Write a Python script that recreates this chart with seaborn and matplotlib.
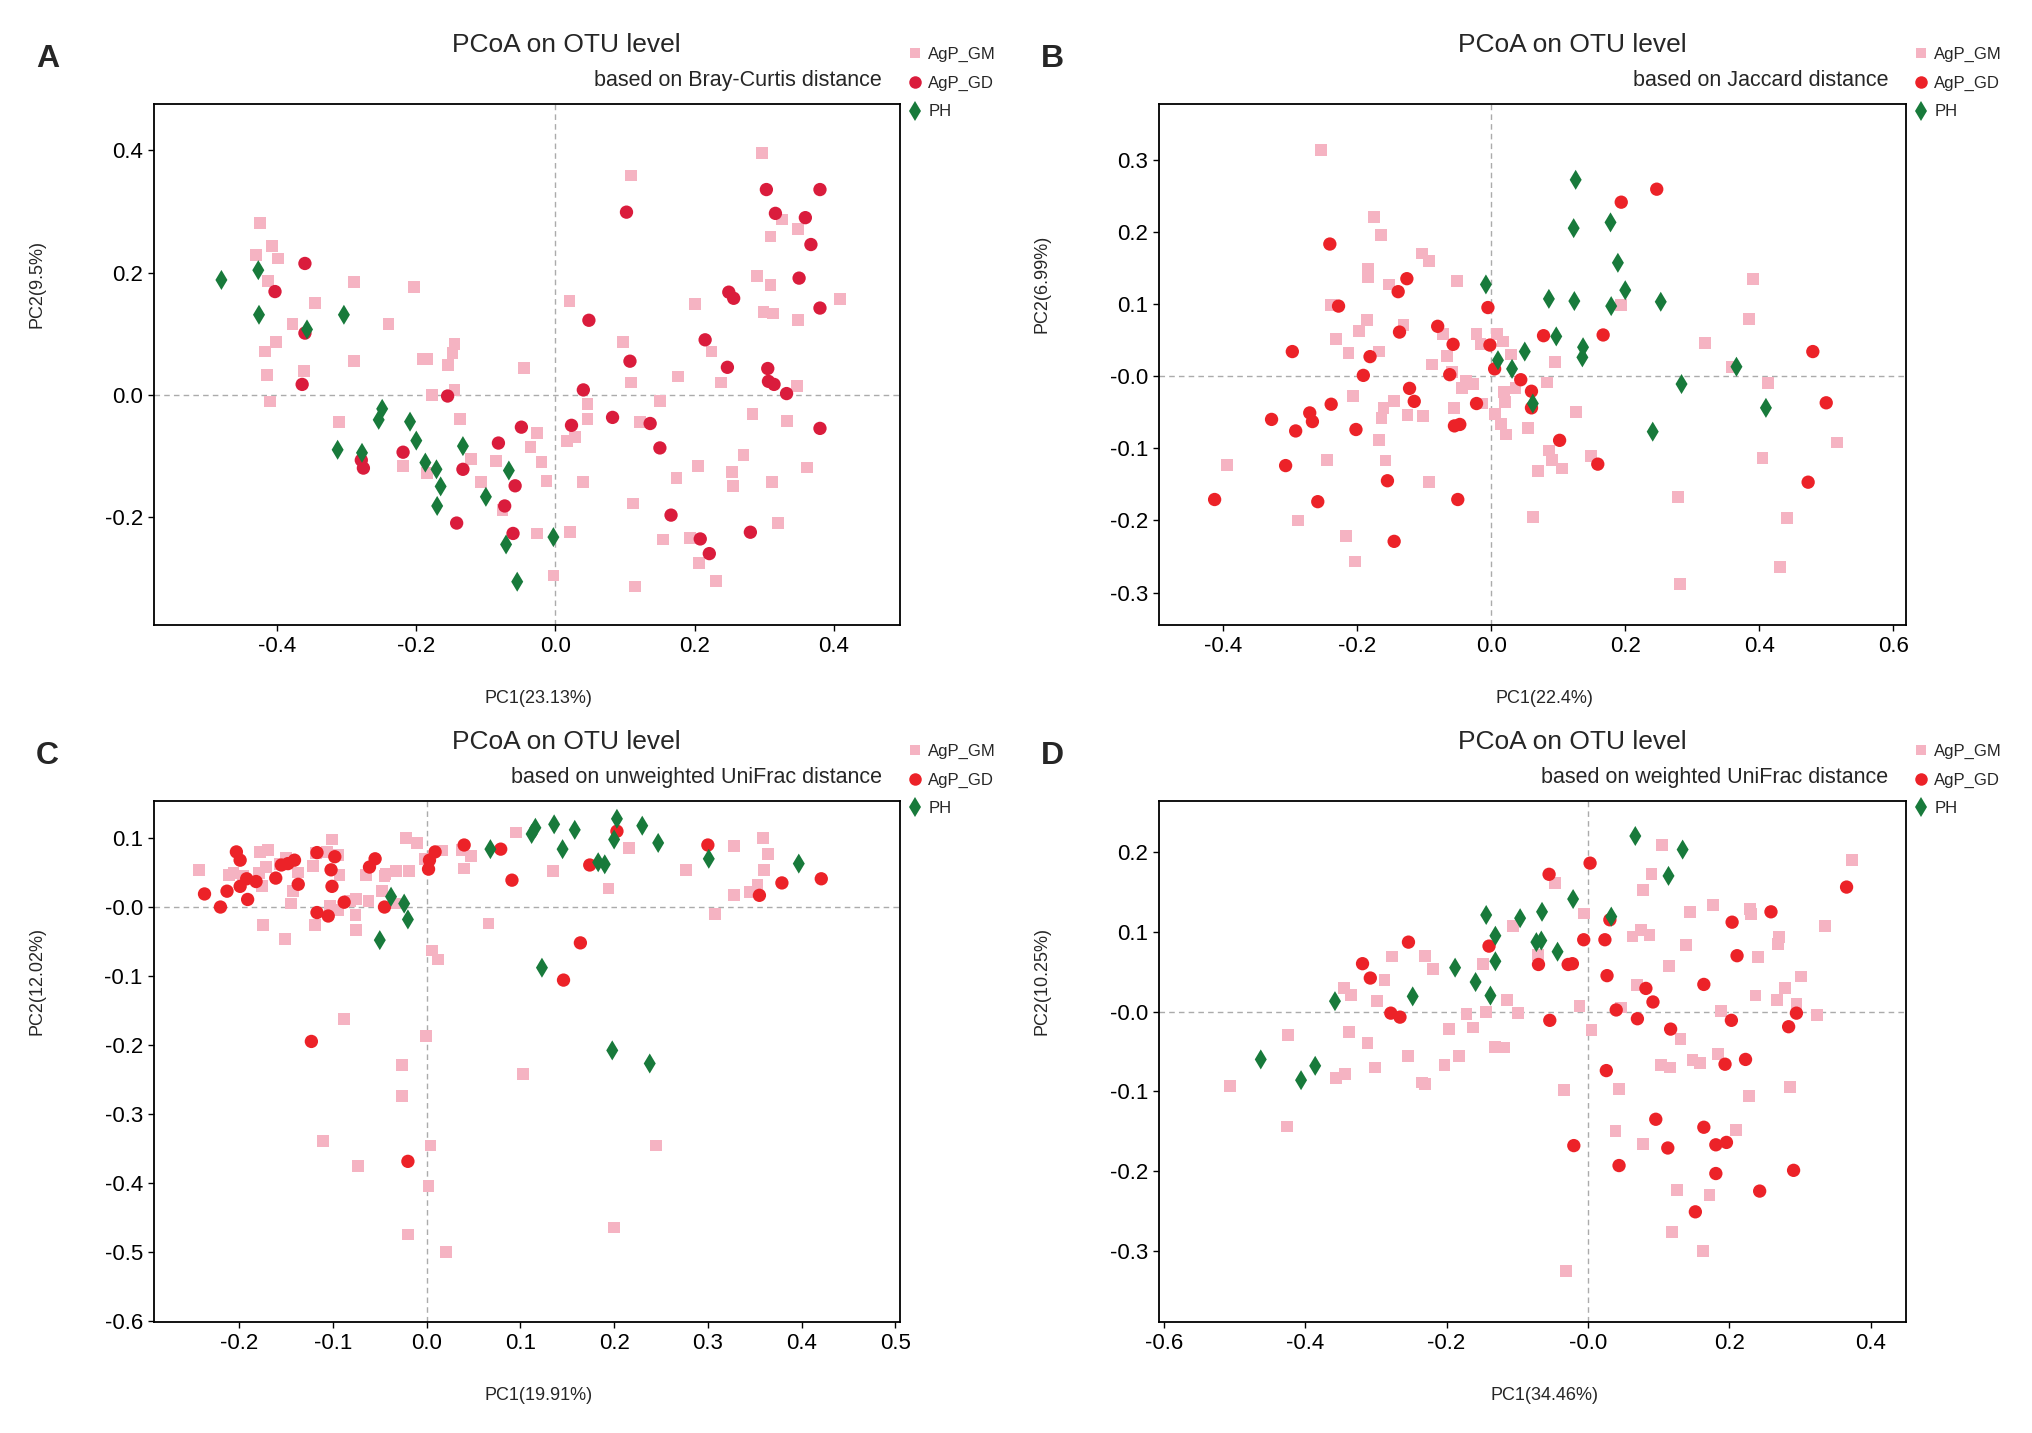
import matplotlib
matplotlib.use("Agg")
import matplotlib.pyplot as plt
import seaborn as sns
import pandas as pd
from matplotlib.lines import Line2D

sns.set_theme(style="ticks")
plt.rcParams["font.family"] = ["Liberation Sans", "DejaVu Sans"]
plt.rcParams["axes.unicode_minus"] = False

# -------------------------------
# DATA (PC1 / PC2 pairs)
# -------------------------------
GROUPS = ["AgP_GM", "AgP_GD", "PH"]

A_GM = [(-0.424, 0.281), (-0.430, 0.229), (-0.407, 0.244), (-0.399, 0.223), (-0.413, 0.186),
        (-0.289, 0.185), (-0.203, 0.176), (-0.346, 0.150), (-0.378, 0.116), (-0.240, 0.116),
        (-0.402, 0.087), (-0.417, 0.071), (-0.361, 0.039), (-0.414, 0.032), (-0.410, -0.011),
        (-0.289, 0.055), (-0.190, 0.059), (-0.184, 0.059), (-0.145, 0.083), (-0.148, 0.068),
        (-0.154, 0.049), (-0.145, 0.008), (-0.177, 0.000), (-0.045, 0.044), (-0.311, -0.045),
        (-0.137, -0.039), (-0.219, -0.116), (-0.185, -0.128), (-0.121, -0.105), (-0.086, -0.108),
        (-0.107, -0.143), (-0.076, -0.189), (-0.027, -0.062), (-0.036, -0.086), (-0.020, -0.110),
        (-0.013, -0.141), (-0.027, -0.227), (-0.003, -0.296), (0.020, 0.154), (0.108, 0.359),
        (0.097, 0.086), (0.109, 0.020), (0.046, -0.015), (0.046, -0.039), (0.017, -0.076),
        (0.028, -0.069), (0.040, -0.143), (0.121, -0.044), (0.150, -0.010), (0.176, 0.030),
        (0.111, -0.178), (0.021, -0.224), (0.114, -0.314), (0.154, -0.237), (0.174, -0.136),
        (0.205, -0.117), (0.193, -0.234), (0.206, -0.276), (0.231, -0.305), (0.254, -0.127),
        (0.255, -0.149), (0.270, -0.098), (0.201, 0.149), (0.224, 0.071), (0.238, 0.020),
        (0.283, -0.032), (0.289, 0.194), (0.309, 0.180), (0.299, 0.135), (0.312, 0.133),
        (0.348, 0.123), (0.347, 0.014), (0.333, -0.043), (0.361, -0.119), (0.311, -0.143),
        (0.320, -0.210), (0.297, 0.396), (0.326, 0.287), (0.309, 0.259), (0.348, 0.272),
        (0.409, 0.157)]
A_GD = [(-0.360, 0.215), (-0.403, 0.169), (-0.360, 0.101), (-0.364, 0.017), (-0.155, -0.002),
        (-0.219, -0.094), (-0.279, -0.107), (-0.276, -0.120), (-0.133, -0.122), (-0.142, -0.210),
        (-0.082, -0.079), (-0.049, -0.053), (-0.058, -0.149), (-0.073, -0.182), (-0.061, -0.227),
        (0.040, 0.008), (0.048, 0.122), (0.102, 0.299), (0.107, 0.055), (0.023, -0.050),
        (0.082, -0.037), (0.136, -0.047), (0.150, -0.087), (0.166, -0.197), (0.208, -0.236),
        (0.221, -0.260), (0.280, -0.225), (0.215, 0.090), (0.247, 0.045), (0.249, 0.168),
        (0.256, 0.158), (0.303, 0.336), (0.380, 0.336), (0.316, 0.297), (0.359, 0.290),
        (0.367, 0.246), (0.350, 0.191), (0.380, 0.142), (0.305, 0.043), (0.306, 0.022),
        (0.314, 0.017), (0.332, 0.002), (0.380, -0.055)]
A_PH = [(-0.480, 0.188), (-0.427, 0.204), (-0.426, 0.131), (-0.357, 0.107), (-0.304, 0.131),
        (-0.249, -0.023), (-0.254, -0.041), (-0.313, -0.090), (-0.278, -0.095), (-0.209, -0.044),
        (-0.200, -0.075), (-0.187, -0.111), (-0.171, -0.122), (-0.165, -0.150), (-0.170, -0.182),
        (-0.133, -0.084), (-0.100, -0.167), (-0.067, -0.124), (-0.071, -0.245), (-0.055, -0.306),
        (-0.003, -0.233)]

B_GM = [(-0.254, 0.313), (-0.175, 0.221), (-0.165, 0.195), (-0.103, 0.170), (-0.093, 0.159),
        (-0.184, 0.148), (-0.184, 0.137), (-0.153, 0.127), (-0.051, 0.132), (-0.239, 0.098),
        (-0.185, 0.078), (-0.131, 0.071), (-0.198, 0.063), (-0.232, 0.051), (-0.213, 0.032),
        (-0.168, 0.034), (-0.089, 0.016), (-0.072, 0.058), (-0.066, 0.028), (-0.022, 0.058),
        (0.009, 0.058), (0.018, 0.048), (-0.016, 0.045), (0.029, 0.030), (-0.059, 0.006),
        (-0.038, -0.006), (-0.027, -0.011), (-0.044, -0.016), (-0.206, -0.028), (-0.145, -0.035),
        (-0.161, -0.044), (-0.164, -0.058), (-0.125, -0.054), (-0.102, -0.055), (-0.056, -0.044),
        (-0.014, -0.038), (0.019, -0.022), (0.020, -0.036), (0.036, -0.016), (0.006, -0.052),
        (0.015, -0.066), (0.022, -0.081), (0.055, -0.072), (0.083, -0.009), (0.095, 0.020),
        (-0.168, -0.089), (-0.158, -0.117), (-0.245, -0.116), (-0.394, -0.123), (-0.289, -0.200),
        (-0.217, -0.222), (-0.203, -0.257), (-0.093, -0.147), (0.062, -0.195), (0.070, -0.131),
        (0.086, -0.103), (0.091, -0.116), (0.105, -0.128), (0.127, -0.050), (0.149, -0.111),
        (0.194, 0.099), (0.319, 0.046), (0.359, 0.013), (0.385, 0.079), (0.391, 0.135),
        (0.413, -0.010), (0.405, -0.114), (0.279, -0.168), (0.282, -0.288), (0.441, -0.197),
        (0.431, -0.264), (0.516, -0.092)]
B_GD = [(-0.241, 0.183), (-0.228, 0.097), (-0.126, 0.135), (-0.139, 0.117), (-0.137, 0.061),
        (-0.297, 0.034), (-0.181, 0.027), (-0.191, 0.001), (-0.080, 0.069), (-0.057, 0.044),
        (-0.062, 0.002), (-0.005, 0.095), (-0.002, 0.043), (0.005, 0.010), (0.044, -0.005),
        (0.060, -0.021), (0.060, -0.044), (0.078, 0.056), (0.167, 0.057), (0.194, 0.241),
        (0.247, 0.259), (-0.122, -0.017), (-0.115, -0.035), (-0.239, -0.039), (-0.271, -0.051),
        (-0.267, -0.063), (-0.328, -0.060), (-0.292, -0.076), (-0.202, -0.074), (-0.022, -0.038),
        (-0.055, -0.069), (-0.047, -0.067), (0.102, -0.089), (0.159, -0.122), (-0.307, -0.124),
        (-0.413, -0.171), (-0.259, -0.174), (-0.155, -0.145), (-0.050, -0.171), (-0.145, -0.229),
        (0.480, 0.034), (0.500, -0.037), (0.473, -0.147)]
B_PH = [(0.126, 0.272), (0.123, 0.205), (0.178, 0.213), (0.189, 0.157), (0.200, 0.119),
        (0.179, 0.097), (0.253, 0.103), (0.124, 0.104), (0.086, 0.107), (-0.008, 0.127),
        (0.097, 0.055), (0.050, 0.034), (0.010, 0.022), (0.031, 0.010), (0.137, 0.040),
        (0.136, 0.026), (0.062, -0.038), (0.284, -0.011), (0.366, 0.013), (0.410, -0.044),
        (0.241, -0.077)]

C_GM = [(-0.243, 0.054), (-0.211, 0.047), (-0.206, 0.049), (-0.178, 0.080), (-0.169, 0.083),
        (-0.171, 0.058), (-0.176, 0.030), (-0.175, -0.026), (-0.151, -0.046), (-0.150, 0.072),
        (-0.143, 0.023), (-0.145, 0.005), (-0.137, 0.050), (-0.121, 0.060), (-0.119, -0.026),
        (-0.106, 0.080), (-0.101, 0.098), (-0.094, 0.075), (-0.093, 0.047), (-0.103, 0.002),
        (-0.095, -0.004), (-0.082, 0.009), (-0.075, 0.012), (-0.065, 0.047), (-0.062, 0.009),
        (-0.076, -0.011), (-0.075, -0.033), (-0.045, 0.045), (-0.048, 0.023), (-0.033, 0.052),
        (-0.034, 0.005), (-0.022, 0.100), (-0.010, 0.093), (-0.019, 0.052), (-0.002, 0.070),
        (0.017, 0.082), (0.038, 0.083), (0.040, 0.056), (0.047, 0.074), (0.006, -0.063),
        (0.012, -0.076), (0.066, -0.024), (0.095, 0.108), (0.135, 0.052), (0.194, 0.027),
        (0.216, 0.086), (0.277, 0.054), (0.308, -0.010), (0.328, 0.088), (0.328, 0.017),
        (0.345, 0.022), (0.353, 0.032), (0.359, 0.100), (0.364, 0.077), (0.360, 0.054),
        (-0.088, -0.162), (-0.001, -0.187), (-0.026, -0.229), (-0.026, -0.274), (-0.111, -0.339),
        (-0.073, -0.376), (0.004, -0.346), (0.002, -0.405), (-0.020, -0.475), (0.021, -0.500),
        (0.103, -0.242), (0.245, -0.346), (0.200, -0.465), (-0.179, 0.049), (-0.157, 0.062),
        (-0.118, 0.078), (-0.196, 0.045), (-0.044, 0.048)]
C_GD = [(-0.237, 0.019), (-0.220, 0.000), (-0.213, 0.023), (-0.203, 0.080), (-0.199, 0.068),
        (-0.199, 0.030), (-0.191, 0.011), (-0.192, 0.041), (-0.182, 0.037), (-0.161, 0.042),
        (-0.155, 0.061), (-0.148, 0.063), (-0.141, 0.068), (-0.137, 0.033), (-0.117, 0.079),
        (-0.117, -0.008), (-0.105, -0.013), (-0.102, 0.054), (-0.101, 0.030), (-0.098, 0.073),
        (-0.088, 0.007), (-0.061, 0.058), (-0.055, 0.070), (-0.045, 0.000), (0.002, 0.055),
        (0.003, 0.068), (0.009, 0.080), (0.040, 0.090), (0.079, 0.084), (0.091, 0.039),
        (0.174, 0.061), (0.203, 0.110), (0.164, -0.052), (0.146, -0.106), (-0.123, -0.195),
        (-0.020, -0.369), (0.300, 0.090), (0.355, 0.017), (0.379, 0.035), (0.421, 0.041)]
C_PH = [(-0.038, 0.015), (-0.024, 0.005), (-0.020, -0.018), (-0.050, -0.048), (0.068, 0.084),
        (0.112, 0.106), (0.116, 0.115), (0.136, 0.120), (0.158, 0.112), (0.145, 0.084),
        (0.183, 0.065), (0.190, 0.062), (0.203, 0.128), (0.200, 0.098), (0.230, 0.118),
        (0.247, 0.093), (0.301, 0.070), (0.397, 0.063), (0.123, -0.088), (0.198, -0.208),
        (0.238, -0.227)]

D_GM = [(-0.506, -0.093), (-0.425, -0.029), (-0.426, -0.144), (-0.345, 0.030), (-0.335, 0.021),
        (-0.299, 0.013), (-0.288, 0.040), (-0.277, 0.069), (-0.338, -0.026), (-0.312, -0.039),
        (-0.356, -0.083), (-0.344, -0.078), (-0.301, -0.070), (-0.255, -0.056), (-0.231, 0.070),
        (-0.219, 0.053), (-0.235, -0.089), (-0.231, -0.091), (-0.203, -0.067), (-0.197, -0.022),
        (-0.182, -0.056), (-0.172, -0.003), (-0.163, -0.020), (-0.148, 0.060), (-0.144, -0.001),
        (-0.131, -0.044), (-0.119, -0.045), (-0.114, 0.014), (-0.099, -0.002), (-0.106, 0.107),
        (-0.071, 0.071), (-0.047, 0.161), (-0.034, -0.098), (-0.031, -0.325), (-0.012, 0.007),
        (-0.006, 0.123), (0.005, -0.023), (0.039, -0.150), (0.044, -0.097), (0.047, 0.005),
        (0.063, 0.094), (0.069, 0.033), (0.075, 0.102), (0.087, 0.096), (0.078, 0.152),
        (0.090, 0.172), (0.078, -0.166), (0.105, 0.209), (0.103, -0.067), (0.116, -0.070),
        (0.115, 0.057), (0.126, -0.224), (0.119, -0.276), (0.131, -0.034), (0.139, 0.083),
        (0.144, 0.125), (0.148, -0.061), (0.159, -0.064), (0.163, -0.300), (0.172, -0.230),
        (0.177, 0.134), (0.184, -0.053), (0.188, 0.001), (0.209, -0.148), (0.228, -0.106),
        (0.229, 0.129), (0.231, 0.122), (0.237, 0.020), (0.241, 0.068), (0.267, 0.014),
        (0.270, 0.093), (0.269, 0.085), (0.279, 0.030), (0.286, -0.095), (0.295, 0.009),
        (0.301, 0.044), (0.324, -0.004), (0.335, 0.107), (0.374, 0.190)]
D_GD = [(-0.319, 0.060), (-0.308, 0.042), (-0.279, -0.002), (-0.266, -0.007), (-0.254, 0.087),
        (-0.140, 0.082), (-0.070, 0.059), (-0.055, 0.172), (-0.054, -0.011), (-0.028, 0.059),
        (-0.022, 0.060), (-0.020, -0.168), (-0.006, 0.090), (0.003, 0.186), (0.024, 0.090),
        (0.031, 0.115), (0.027, 0.045), (0.026, -0.074), (0.040, 0.002), (0.044, -0.193),
        (0.070, -0.009), (0.082, 0.029), (0.092, 0.012), (0.096, -0.135), (0.113, -0.171),
        (0.117, -0.022), (0.164, 0.034), (0.164, -0.145), (0.152, -0.251), (0.181, -0.167),
        (0.181, -0.203), (0.196, -0.164), (0.194, -0.066), (0.203, -0.011), (0.204, 0.112),
        (0.211, 0.070), (0.223, -0.060), (0.243, -0.225), (0.259, 0.125), (0.284, -0.019),
        (0.291, -0.199), (0.295, -0.002), (0.366, 0.156)]
D_PH = [(-0.463, -0.060), (-0.406, -0.086), (-0.386, -0.068), (-0.358, 0.013), (-0.248, 0.019),
        (-0.188, 0.055), (-0.159, 0.037), (-0.138, 0.020), (-0.131, 0.063), (-0.131, 0.095),
        (-0.144, 0.121), (-0.096, 0.117), (-0.073, 0.087), (-0.066, 0.089), (-0.065, 0.125),
        (-0.043, 0.075), (-0.021, 0.141), (0.033, 0.119), (0.067, 0.220), (0.114, 0.170),
        (0.134, 0.203)]

SUBTITLES = ["based on Bray-Curtis distance", "based on Jaccard distance",
             "based on unweighted UniFrac distance", "based on weighted UniFrac distance"]
XLABELS = ["PC1(23.13%)", "PC1(22.4%)", "PC1(19.91%)", "PC1(34.46%)"]
YLABELS = ["PC2(9.5%)", "PC2(6.99%)", "PC2(12.02%)", "PC2(10.25%)"]

X_TICKS = [[-0.4, -0.2, 0.0, 0.2, 0.4],
           [-0.4, -0.2, 0.0, 0.2, 0.4, 0.6],
           [-0.2, -0.1, 0.0, 0.1, 0.2, 0.3, 0.4, 0.5],
           [-0.6, -0.4, -0.2, 0.0, 0.2, 0.4]]
X_TICKLABELS = [["-0.4", "-0.2", "0.0", "0.2", "0.4"],
                ["-0.4", "-0.2", "0.0", "0.2", "0.4", "0.6"],
                ["-0.2", "-0.1", "0.0", "0.1", "0.2", "0.3", "0.4", "0.5"],
                ["-0.6", "-0.4", "-0.2", "-0.0", "0.2", "0.4"]]
Y_TICKS = [[-0.2, 0.0, 0.2, 0.4],
           [-0.3, -0.2, -0.1, 0.0, 0.1, 0.2, 0.3],
           [-0.6, -0.5, -0.4, -0.3, -0.2, -0.1, 0.0, 0.1],
           [-0.3, -0.2, -0.1, 0.0, 0.1, 0.2]]
Y_TICKLABELS = [["-0.2", "0.0", "0.2", "0.4"],
                ["-0.3", "-0.2", "-0.1", "-0.0", "0.1", "0.2", "0.3"],
                ["-0.6", "-0.5", "-0.4", "-0.3", "-0.2", "-0.1", "-0.0", "0.1"],
                ["-0.3", "-0.2", "-0.1", "-0.0", "0.1", "0.2"]]
XLIMS = [(-0.577, 0.495), (-0.496, 0.619), (-0.291, 0.505), (-0.607, 0.450)]
YLIMS = [(-0.377, 0.476), (-0.345, 0.377), (-0.602, 0.154), (-0.389, 0.264)]

PINK = "#F5B3C2"
GREEN = "#187A3B"
REDS = ["#DA1C3C", "#EC2228", "#EC2228", "#EC2228"]

MARKERS = {"AgP_GM": "s", "AgP_GD": "o", "PH": "d"}
SIZES = {"AgP_GM": 72, "AgP_GD": 92, "PH": 104}


# -------------------------------
# HELPERS
# -------------------------------
def make_frame(gm, gd, ph):
    rows = []
    for name, pts in zip(GROUPS, [gm, gd, ph]):
        for x, y in pts:
            rows.append({"PC1": x, "PC2": y, "group": name})
    return pd.DataFrame(rows)


def draw_panel(ax, df, idx, letter, fig):
    red = REDS[idx]
    palette = {"AgP_GM": PINK, "AgP_GD": red, "PH": GREEN}

    ax.axhline(0, color="#ababab", lw=1.0, ls=(0, (4, 3)), zorder=0)
    ax.axvline(0, color="#ababab", lw=1.0, ls=(0, (4, 3)), zorder=0)

    sns.scatterplot(data=df, x="PC1", y="PC2", hue="group", style="group", size="group",
                    palette=palette, markers=MARKERS, sizes=SIZES, linewidth=0,
                    alpha=1, legend=False, ax=ax, zorder=3)

    ax.set_xlim(*XLIMS[idx])
    ax.set_ylim(*YLIMS[idx])
    ax.set_xticks(X_TICKS[idx])
    ax.set_xticklabels(X_TICKLABELS[idx])
    ax.set_yticks(Y_TICKS[idx])
    ax.set_yticklabels(Y_TICKLABELS[idx])
    ax.tick_params(axis="both", direction="out", length=4, width=1, labelsize=16,
                   pad=4, colors="black")
    for sp in ax.spines.values():
        sp.set_visible(True)
        sp.set_linewidth(1.3)
        sp.set_color("black")

    ax.set_xlabel(XLABELS[idx], fontsize=13)
    ax.set_ylabel(YLABELS[idx], fontsize=13)
    ax.xaxis.set_label_coords(0.516, -0.125)
    ax.yaxis.set_label_coords(-0.145, 0.655)

    ax.text(0.553, 1.10, "PCoA on OTU level", transform=ax.transAxes,
            ha="center", va="baseline", fontsize=19)
    ax.text(0.976, 1.035, SUBTITLES[idx], transform=ax.transAxes,
            ha="right", va="baseline", fontsize=15.5)

    handles = [
        Line2D([], [], ls="", marker="s", ms=7.5, color=PINK, mew=0),
        Line2D([], [], ls="", marker="o", ms=9, color=red, mew=0),
        Line2D([], [], ls="", marker="d", ms=10, color=GREEN, mew=0),
    ]
    ax.legend(handles, GROUPS, loc="upper left", bbox_to_anchor=(1.009, 1.110),
              frameon=False, fontsize=12, handlelength=1.0, handletextpad=0.3,
              labelspacing=0.82, borderpad=0, borderaxespad=0)

    pos = ax.get_position()
    fig.text(pos.x0 - 0.058, pos.y1 + 0.026, letter, fontsize=23, fontweight="bold",
             ha="left", va="baseline")


# -------------------------------
# MAIN
# -------------------------------
def main():
    fig = plt.figure(figsize=(20.33, 14.33), dpi=100)
    boxes = [[0.0757, 0.5638, 0.3670, 0.3636],
             [0.5701, 0.5638, 0.3674, 0.3636],
             [0.0757, 0.0775, 0.3670, 0.3636],
             [0.5701, 0.0775, 0.3674, 0.3636]]
    frames = [make_frame(A_GM, A_GD, A_PH), make_frame(B_GM, B_GD, B_PH),
              make_frame(C_GM, C_GD, C_PH), make_frame(D_GM, D_GD, D_PH)]
    for i, (box, df, letter) in enumerate(zip(boxes, frames, "ABCD")):
        ax = fig.add_axes(box)
        draw_panel(ax, df, i, letter, fig)

    fig.savefig("out.png", dpi=100, facecolor="white")


if __name__ == "__main__":
    main()
